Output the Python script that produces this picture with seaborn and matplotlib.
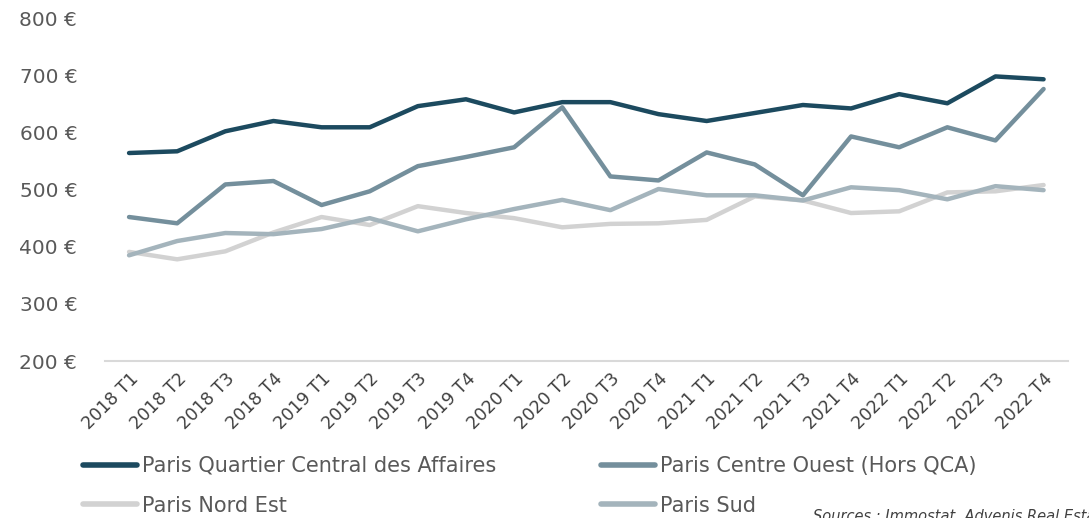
# Loyers moyens Paris par secteur, 2018-2022
import numpy as np
import pandas as pd
import seaborn as sns
import matplotlib
matplotlib.use('Agg')
import matplotlib.pyplot as plt

sns.set_style('white')
plt.rcParams['font.family'] = ['DejaVu Sans']

quarters = ['2018 T1', '2018 T2', '2018 T3', '2018 T4',
            '2019 T1', '2019 T2', '2019 T3', '2019 T4',
            '2020 T1', '2020 T2', '2020 T3', '2020 T4',
            '2021 T1', '2021 T2', '2021 T3', '2021 T4',
            '2022 T1', '2022 T2', '2022 T3', '2022 T4']

qca = [564, 567, 602, 620, 609, 609, 646, 658, 635, 653,
       653, 632, 620, 634, 648, 642, 667, 651, 698, 693]
centre_ouest = [452, 441, 509, 515, 473, 497, 541, 557, 574, 644,
                523, 516, 565, 544, 490, 593, 574, 609, 586, 676]
nord_est = [391, 378, 392, 425, 452, 438, 471, 459, 450, 434,
            440, 441, 447, 488, 481, 459, 462, 495, 497, 508]
sud = [385, 410, 424, 422, 431, 450, 427, 448, 466, 482,
       464, 501, 490, 490, 481, 504, 499, 483, 506, 499]

series_names = ['Paris Quartier Central des Affaires',
                'Paris Centre Ouest (Hors QCA)',
                'Paris Nord Est',
                'Paris Sud']
colors = ['#1c4a5f', '#748f9c', '#d2d2d2', '#a4b4bc']

df = pd.DataFrame({
    'x': np.tile(np.arange(len(quarters)), 4),
    'loyer': qca + centre_ouest + nord_est + sud,
    'secteur': np.repeat(series_names, len(quarters)),
})

fig = plt.figure(figsize=(10.89, 5.18), dpi=100)
ax = fig.add_axes([0.0964, 0.303, 0.884, 0.662])

sns.lineplot(data=df, x='x', y='loyer', hue='secteur', hue_order=series_names,
             palette=colors, linewidth=3.2, ax=ax, legend=False)

ax.set_xlim(-0.5, len(quarters) - 0.5)
ax.set_ylim(200, 800)
ax.set_yticks(range(200, 801, 100))
ax.set_yticklabels([f'{v} €' for v in range(200, 801, 100)],
                   fontsize=14.5, color='#595959')
ax.set_xticks(range(len(quarters)))
ax.set_xticklabels(quarters, rotation=45, ha='right', va='top',
                   rotation_mode='anchor', fontsize=12.5, color='#404040')
ax.tick_params(axis='both', length=0, pad=6)
ax.tick_params(axis='y', pad=20)
ax.set_xlabel('')
ax.set_ylabel('')
for side in ['top', 'right', 'left']:
    ax.spines[side].set_visible(False)
ax.spines['bottom'].set_color('#d9d9d9')
ax.spines['bottom'].set_linewidth(1.5)

# legend is filled column by column: reorder so rows read QCA | Centre Ouest
order = [0, 2, 1, 3]
handles = [plt.Line2D([], [], color=colors[i], linewidth=4, solid_capstyle='round')
           for i in order]
fig.legend(handles, [series_names[i] for i in order], loc='upper left',
           bbox_to_anchor=(0.076, 0.12), ncol=2,
           frameon=False, fontsize=15, handlelength=2.6, handletextpad=0.25,
           columnspacing=5.0, labelspacing=0.95, labelcolor='#595959',
           borderaxespad=0, borderpad=0)

fig.text(0.747, -0.012, 'Sources : Immostat, Advenis Real Estate',
         fontsize=10.5, style='italic', color='#404040', va='bottom')

fig.savefig('out.png', dpi=100)
